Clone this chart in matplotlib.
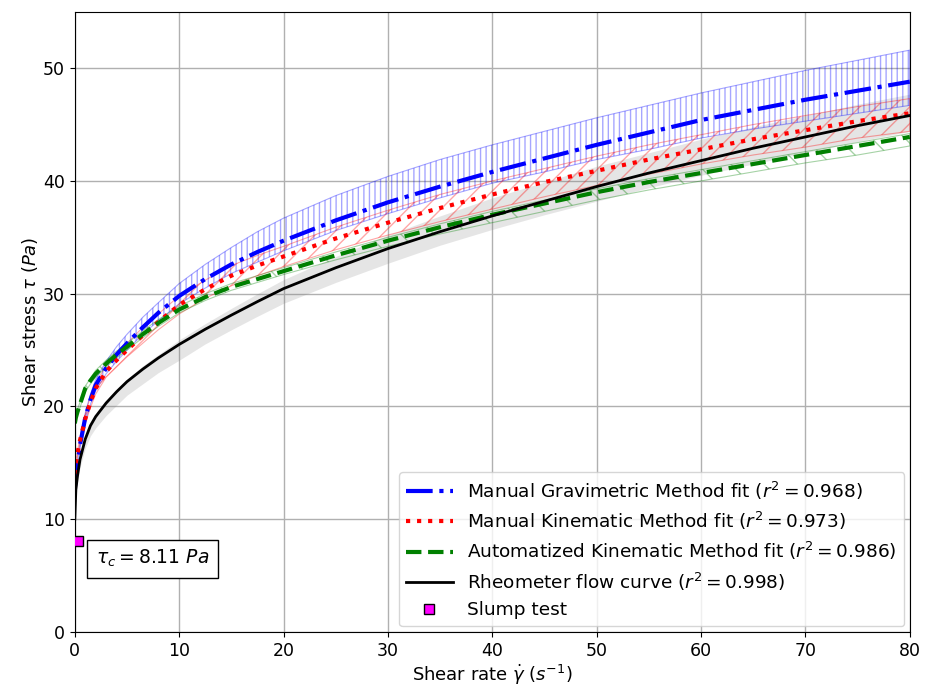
import numpy as np
import matplotlib
matplotlib.use("Agg")
import matplotlib.pyplot as plt

# shear rate points where the curves were read
gamma = [0, 0.1, 0.25, 0.5, 1, 1.5, 2, 3, 4, 5, 6.5, 8, 10, 12.5, 15, 17.5, 20,
         25, 30, 35, 40, 45, 50, 55, 60, 65, 70, 75, 80]

# manual gravimetric fit + band
grav = [12.8, 13.6, 14.8, 16.6, 19.0, 20.6, 21.9, 23.4, 24.6, 25.6, 27.0, 28.3, 29.8, 31.3, 32.6, 33.7, 34.7,
        36.5, 38.1, 39.5, 40.8, 42.0, 43.2, 44.3, 45.4, 46.3, 47.2, 48.0, 48.8]
grav_hi = [12.8, 13.7, 15.0, 16.9, 19.4, 21.1, 22.4, 24.0, 25.3, 26.4, 27.9, 29.2, 30.9, 32.6, 34.1, 35.5, 36.7,
           38.7, 40.4, 41.9, 43.2, 44.4, 45.6, 46.7, 47.8, 48.8, 49.8, 50.7, 51.6]
grav_lo = [12.8, 13.5, 14.6, 16.3, 18.6, 20.2, 21.4, 22.9, 24.0, 25.0, 26.4, 27.6, 29.1, 30.5, 31.8, 32.8, 33.8,
           35.6, 37.1, 38.5, 39.8, 40.8, 41.9, 42.8, 43.8, 44.6, 45.3, 46.0, 46.7]

# manual kinematic fit + band
kin = [14.0, 14.8, 15.8, 17.0, 18.9, 20.4, 21.6, 23.1, 24.1, 25.0, 26.3, 27.5, 29.0, 30.4, 31.6, 32.5, 33.3,
       34.9, 36.3, 37.6, 38.8, 39.9, 40.9, 41.9, 42.8, 43.7, 44.5, 45.3, 46.0]
kin_hi = [14.0, 14.9, 16.0, 17.3, 19.3, 20.9, 22.1, 23.6, 24.7, 25.6, 27.0, 28.2, 29.8, 31.2, 32.5, 33.4, 34.2,
          35.9, 37.4, 38.8, 40.0, 41.1, 42.2, 43.2, 44.1, 45.0, 45.8, 46.6, 47.3]
kin_lo = [14.0, 14.7, 15.6, 16.7, 18.5, 19.9, 21.1, 22.6, 23.5, 24.4, 25.6, 26.8, 28.2, 29.6, 30.7, 31.6, 32.4,
          33.9, 35.2, 36.4, 37.5, 38.6, 39.6, 40.6, 41.5, 42.3, 43.0, 43.8, 44.4]

# automatized kinematic fit + band
auto = [18.5, 19.0, 19.5, 20.2, 21.6, 22.3, 22.9, 23.8, 24.6, 25.3, 26.4, 27.4, 28.6, 29.7, 30.6, 31.3, 32.0,
        33.4, 34.7, 35.9, 37.0, 38.0, 39.0, 39.9, 40.7, 41.5, 42.3, 43.1, 43.9]
auto_hi = [18.6, 19.1, 19.7, 20.4, 21.8, 22.5, 23.2, 24.1, 24.9, 25.6, 26.7, 27.7, 28.9, 30.0, 30.9, 31.6, 32.3,
           33.7, 35.0, 36.2, 37.3, 38.3, 39.3, 40.2, 41.0, 41.8, 42.6, 43.4, 44.2]
auto_lo = [18.4, 18.9, 19.3, 19.9, 21.3, 22.0, 22.6, 23.5, 24.3, 25.0, 26.1, 27.1, 28.3, 29.4, 30.3, 31.0, 31.7,
           33.0, 34.2, 35.3, 36.3, 37.3, 38.3, 39.2, 40.0, 40.8, 41.6, 42.3, 43.1]

# rheometer flow curve + band
rheo = [10.0, 12.6, 13.8, 15.3, 17.1, 18.3, 19.1, 20.3, 21.3, 22.2, 23.3, 24.3, 25.5, 26.85, 28.1, 29.3, 30.45,
        32.3, 34.0, 35.5, 36.9, 38.2, 39.5, 40.7, 41.8, 42.9, 43.9, 44.9, 45.8]
rheo_hi = [10.0, 12.7, 13.9, 15.4, 17.3, 18.5, 19.3, 20.5, 21.5, 22.4, 23.6, 24.6, 25.9, 27.35, 28.7, 30.0, 31.25,
           33.3, 35.2, 36.9, 38.5, 39.9, 41.3, 42.5, 43.7, 44.8, 45.8, 46.8, 47.7]
rheo_lo = [10.0, 12.3, 13.3, 14.6, 16.3, 17.4, 18.1, 19.2, 20.1, 21.0, 22.0, 23.0, 24.1, 25.55, 26.8, 28.0, 29.15,
           31.0, 32.7, 34.3, 35.7, 37.0, 38.2, 39.4, 40.5, 41.5, 42.5, 43.5, 44.4]

slump_x = [0.3]
slump_y = [8.11]

fig = plt.figure(figsize=(9.35, 6.93), dpi=100)
ax = fig.add_axes([0.080, 0.088, 0.893, 0.895])

# bands
ax.fill_between(gamma, rheo_lo, rheo_hi, color='grey', alpha=0.2, linewidth=0)
ax.fill_between(gamma, grav_lo, grav_hi, facecolor='none', edgecolor='blue', hatch='|||', alpha=0.35, linewidth=0.8)
ax.fill_between(gamma, kin_lo, kin_hi, facecolor='none', edgecolor='red', hatch='//', alpha=0.35, linewidth=0.8)
ax.fill_between(gamma, auto_lo, auto_hi, facecolor='none', edgecolor='green', hatch='\\', alpha=0.35, linewidth=0.8)

# curves
ax.plot(gamma, grav, color='blue', linestyle='-.', linewidth=3,
        label='Manual Gravimetric Method fit ($r^2 = 0.968$)')
ax.plot(gamma, kin, color='red', linestyle=':', linewidth=3,
        label='Manual Kinematic Method fit ($r^2 = 0.973$)')
ax.plot(gamma, auto, color='green', linestyle='--', linewidth=3,
        label='Automatized Kinematic Method fit ($r^2 = 0.986$)')
ax.plot(gamma, rheo, color='black', linestyle='-', linewidth=2,
        label='Rheometer flow curve ($r^2 = 0.998$)')
ax.plot(slump_x, slump_y, linestyle='none', marker='s', markersize=7,
        markerfacecolor='magenta', markeredgecolor='black', label='Slump test', zorder=5)

ax.text(2.0, 6.5, r'$\tau_c = 8.11\ Pa$', fontsize=13.5, va='center', ha='left',
        bbox=dict(boxstyle='square,pad=0.45', facecolor='white', edgecolor='black'))

ax.set_xlim(0, 80)
ax.set_ylim(0, 55)
ax.set_xticks(np.arange(0, 81, 10))
ax.set_yticks(np.arange(0, 51, 10))
ax.tick_params(labelsize=12.5)
ax.grid(True, color='#b0b0b0', linewidth=1)
ax.set_axisbelow(True)
ax.set_xlabel(r'Shear rate $\dot{\gamma}$ ($s^{-1}$)', fontsize=13, labelpad=2)
ax.set_ylabel(r'Shear stress $\tau$ ($Pa$)', fontsize=13, labelpad=2)
ax.legend(loc='lower right', fontsize=13.3, handlelength=2.5, labelspacing=0.45,
          borderaxespad=0.3)

fig.savefig('out.png', dpi=100)
